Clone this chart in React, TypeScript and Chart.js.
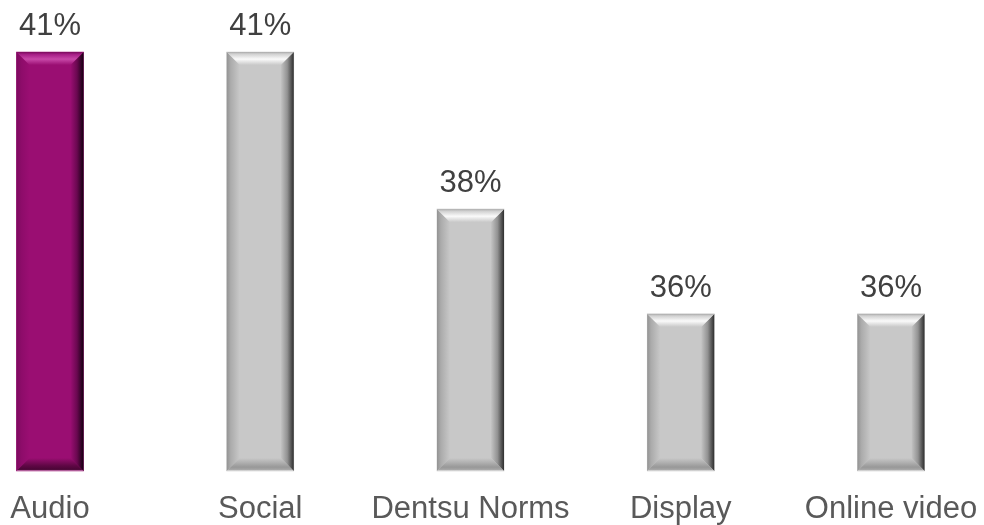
import React, { useEffect, useRef } from "react";
import { Chart, registerables } from "chart.js";

Chart.register(...registerables);

const categories = ["Audio", "Social", "Dentsu Norms", "Display", "Online video"];
const values = [41, 41, 38, 36, 36];
const highlight = [true, false, false, false, false];
const axisMin = 33;
const axisMax = 41;

const FONT = "Arial, 'Liberation Sans', Helvetica, sans-serif";

type Stops = [number, string][];
type Pal = { face: string; top: Stops; left: Stops; right: Stops; bottom: Stops };
const PURPLE: Pal = {
  face: "#9A0E72",
  top: [[0, "#7A0A5C"], [0.2, "#A82088"], [0.55, "#C848A8"], [1, "#9A0E72"]],
  left: [[0, "#7E0A60"], [0.4, "#8E0C6A"], [1, "#9A0E72"]],
  right: [[0, "#9A0E72"], [0.5, "#6A0850"], [1, "#140010"]],
  bottom: [[0, "#9A0E72"], [0.6, "#5E0744"], [0.88, "#4A0536"], [1, "#E088C8"]],
};
const GRAY: Pal = {
  face: "#C8C8C8",
  top: [[0, "#A8A8A8"], [0.15, "#D0D0D0"], [0.55, "#FAFAFA"], [1, "#C8C8C8"]],
  left: [[0, "#939393"], [0.3, "#ABABAB"], [1, "#C8C8C8"]],
  right: [[0, "#C4C4C4"], [0.5, "#929292"], [1, "#2E2E2E"]],
  bottom: [[0, "#C8C8C8"], [0.7, "#989898"], [0.88, "#A4A4A4"], [1, "#E6E6E6"]],
};

function grad(ctx: CanvasRenderingContext2D, x0: number, y0: number, x1: number, y1: number, stops: Stops) {
  const g = ctx.createLinearGradient(x0, y0, x1, y1);
  stops.forEach(([o, c]) => g.addColorStop(o, c));
  return g;
}

const bevelPlugin = {
  id: "bevel",
  afterDatasetsDraw(chart: any) {
    const ctx = chart.ctx as CanvasRenderingContext2D;
    const meta = chart.getDatasetMeta(0);
    meta.data.forEach((bar: any, i: number) => {
      const p = bar.getProps(["x", "y", "base", "width"], true);
      const l = p.x - p.width / 2;
      const r = p.x + p.width / 2;
      const t = p.y;
      const b = p.base;
      const bw = 13;
      const pal = highlight[i] ? PURPLE : GRAY;
      ctx.save();
      // left
      ctx.fillStyle = grad(ctx, l, 0, l + bw, 0, pal.left);
      ctx.beginPath();
      ctx.moveTo(l, t);
      ctx.lineTo(l + bw, t + bw);
      ctx.lineTo(l + bw, b - bw);
      ctx.lineTo(l, b);
      ctx.closePath();
      ctx.fill();
      // right
      ctx.fillStyle = grad(ctx, r - bw, 0, r, 0, pal.right);
      ctx.beginPath();
      ctx.moveTo(r, t);
      ctx.lineTo(r - bw, t + bw);
      ctx.lineTo(r - bw, b - bw);
      ctx.lineTo(r, b);
      ctx.closePath();
      ctx.fill();
      // top
      ctx.fillStyle = grad(ctx, 0, t, 0, t + bw, pal.top);
      ctx.beginPath();
      ctx.moveTo(l, t);
      ctx.lineTo(r, t);
      ctx.lineTo(r - bw, t + bw);
      ctx.lineTo(l + bw, t + bw);
      ctx.closePath();
      ctx.fill();
      // bottom
      ctx.fillStyle = grad(ctx, 0, b - bw, 0, b, pal.bottom);
      ctx.beginPath();
      ctx.moveTo(l, b);
      ctx.lineTo(r, b);
      ctx.lineTo(r - bw, b - bw);
      ctx.lineTo(l + bw, b - bw);
      ctx.closePath();
      ctx.fill();
      ctx.restore();
    });
  },
};

const valueLabelPlugin = {
  id: "valueLabels",
  afterDatasetsDraw(chart: any) {
    const ctx = chart.ctx as CanvasRenderingContext2D;
    const meta = chart.getDatasetMeta(0);
    ctx.save();
    ctx.font = `31px ${FONT}`;
    ctx.fillStyle = "#404040";
    ctx.textAlign = "center";
    ctx.textBaseline = "alphabetic";
    meta.data.forEach((bar: any, i: number) => {
      const p = bar.getProps(["x", "y"], true);
      ctx.fillText(`${values[i]}%`, p.x, p.y - 17);
    });
    ctx.restore();
  },
};

export default function App() {
  const ref = useRef<HTMLCanvasElement | null>(null);
  useEffect(() => {
    if (!ref.current) return;
    const chart = new Chart(ref.current, {
      type: "bar",
      data: {
        labels: categories,
        datasets: [
          {
            data: values,
            base: axisMin,
            backgroundColor: highlight.map((h) => (h ? PURPLE.face : GRAY.face)),
            borderWidth: 0,
            barThickness: 67,
            clip: false as any,
          } as any,
        ],
      },
      options: {
        animation: false,
        responsive: true,
        maintainAspectRatio: false,
        layout: { padding: { left: 50, right: 93, top: 52, bottom: 0 } },
        plugins: { legend: { display: false }, tooltip: { enabled: false } },
        scales: {
          x: {
            offset: false,
            grid: { display: false, drawTicks: false },
            border: { display: false },
            ticks: { color: "#595959", font: { size: 31, family: FONT, lineHeight: 2.49 }, padding: 0, maxRotation: 0, autoSkip: false },
            afterFit: (axis: any) => {
              axis.height = 54;
            },
          },
          y: { display: false, min: axisMin, max: axisMax },
        },
      },
      plugins: [bevelPlugin, valueLabelPlugin],
    });
    return () => chart.destroy();
  }, []);
  return (
    <div style={{ position: "absolute", left: 0, top: 0, width: 984, height: 525, background: "#fff" }}>
      <canvas ref={ref} />
    </div>
  );
}
